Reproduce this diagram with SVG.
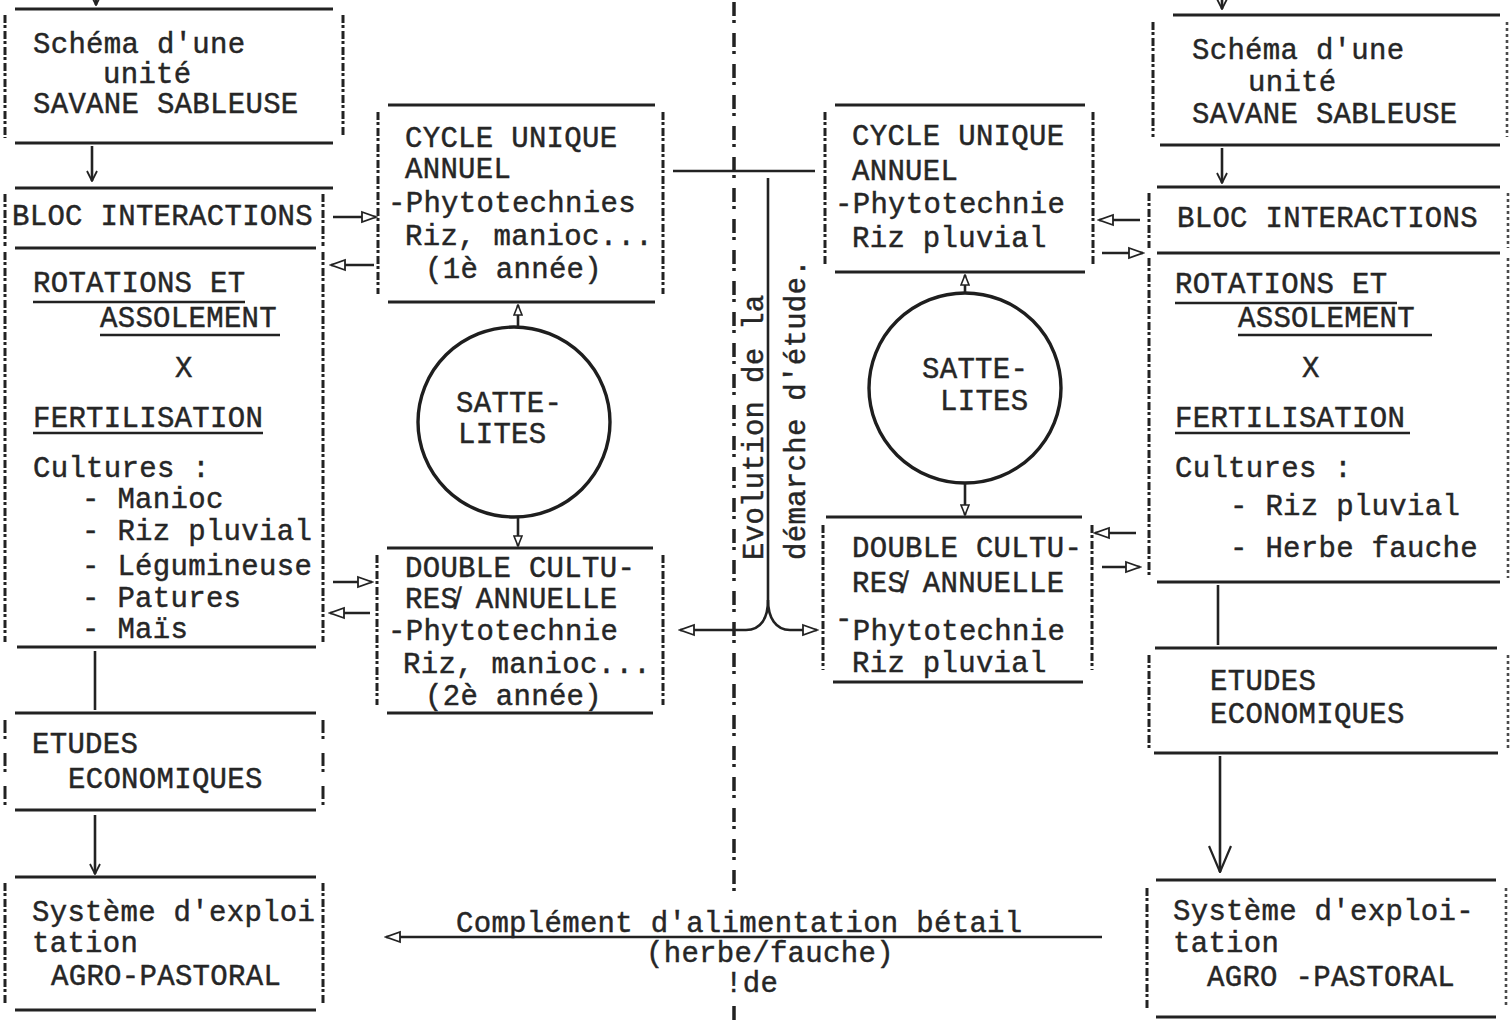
<svg xmlns="http://www.w3.org/2000/svg" width="1511" height="1022" viewBox="0 0 1511 1022">
<style>
.t{font-family:"Liberation Mono","Courier New","DejaVu Sans Mono",monospace;font-size:29px;letter-spacing:0.3px;fill:#262626;stroke:#262626;stroke-width:0.45}
.hl{stroke:#222;stroke-width:3.2;fill:none}
.ul{stroke:#222;stroke-width:2.6;fill:none}
.sd{stroke:#222;stroke-width:3;fill:none;stroke-dasharray:8 2 3 3}
.sdg{stroke:#222;stroke-width:3;fill:none;stroke-dasharray:13 3 3 14}
.sdr{stroke:#4a4a4a;stroke-width:2.6;fill:none;stroke-dasharray:3 3}
.cn{stroke:#222;stroke-width:2.6;fill:none}
.ctr{stroke:#222;stroke-width:3.5;fill:none;stroke-dasharray:14 4 3 10}
.ring{stroke:#1e1e1e;stroke-width:3.4;fill:none}
</style>
<defs>
<marker id="ah" viewBox="0 0 18 14" refX="16" refY="7" markerWidth="18" markerHeight="14" markerUnits="userSpaceOnUse" orient="auto">
<path d="M2,2 L16,7 L2,12 Z" fill="#fff" stroke="#222" stroke-width="1.8"/>
</marker>
<marker id="ahs" viewBox="0 0 12 10" refX="11" refY="5" markerWidth="12" markerHeight="10" markerUnits="userSpaceOnUse" orient="auto">
<path d="M1,1 L11,5 L1,9 Z" fill="#fff" stroke="#222" stroke-width="1.6"/>
</marker>
<marker id="av" viewBox="0 0 12 12" refX="11" refY="6" markerWidth="12" markerHeight="12" markerUnits="userSpaceOnUse" orient="auto">
<path d="M1,1 L11,6 L1,11" fill="none" stroke="#222" stroke-width="1.8"/>
</marker>
<marker id="avb" viewBox="0 0 28 24" refX="27" refY="12" markerWidth="28" markerHeight="24" markerUnits="userSpaceOnUse" orient="auto">
<path d="M1,1 L27,12 L1,23" fill="none" stroke="#222" stroke-width="2.2"/>
</marker>
</defs>
<rect x="0" y="0" width="1511" height="1022" fill="#fff"/>

<g id="divider">
<path class="ctr" d="M734,2 V895"/>
<path class="ctr" d="M734,1006 V1022"/>
</g>

<g id="n-schema-left">
<path class="hl" d="M15,9 H333 M15,143 H333"/>
<path class="sd" d="M5,15 V138 M343,15 V135"/>
<text class="t" x="33" y="53">Schéma d'une</text>
<text class="t" x="103" y="83">unité</text>
<text class="t" x="33" y="113">SAVANE SABLEUSE</text>
</g>

<g id="n-bloc-left">
<path class="hl" d="M15,188 H333 M15,248 H316"/>
<path class="sd" d="M5,194 V246 M323,194 V246"/>
<text class="t" x="12" y="225">BLOC INTERACTIONS</text>
</g>

<g id="n-rot-left">
<path class="sd" d="M5,252 V642 M323,252 V642"/>
<text class="t" x="33" y="292">ROTATIONS ET</text>
<path class="ul" d="M33,302 H245"/>
<text class="t" x="100" y="327">ASSOLEMENT</text>
<path class="ul" d="M100,335 H280"/>
<text class="t" x="175" y="377">X</text>
<text class="t" x="33" y="427">FERTILISATION</text>
<path class="ul" d="M33,433 H263"/>
<text class="t" x="33" y="477">Cultures :</text>
<text class="t" x="82" y="508">- Manioc</text>
<text class="t" x="82" y="540">- Riz pluvial</text>
<text class="t" x="82" y="575">- Légumineuse</text>
<text class="t" x="82" y="607">- Patures</text>
<text class="t" x="82" y="638">- Maïs</text>
<path class="hl" d="M17,647 H316"/>
</g>

<g id="n-etudes-left">
<path class="hl" d="M15,713 H316 M15,810 H316"/>
<path class="sdg" d="M5,720 V805 M323,720 V805"/>
<text class="t" x="32" y="753">ETUDES</text>
<text class="t" x="68" y="788">ECONOMIQUES</text>
</g>

<g id="n-systeme-left">
<path class="hl" d="M15,877 H316 M15,1010 H316"/>
<path class="sd" d="M5,883 V1005 M323,883 V1005"/>
<text class="t" x="32" y="921">Système d'exploi</text>
<text class="t" x="32" y="952">tation</text>
<text class="t" x="51" y="985">AGRO-PASTORAL</text>
</g>

<g id="n-cycle-left">
<path class="hl" d="M388,105 H655 M388,302 H655"/>
<path class="sd" d="M378,112 V294 M663,112 V294"/>
<text class="t" x="405" y="147">CYCLE UNIQUE</text>
<text class="t" x="405" y="178">ANNUEL</text>
<text class="t" x="388" y="212">-Phytotechnies</text>
<text class="t" x="405" y="245">Riz, manioc...</text>
<text class="t" x="425" y="278">(1è année)</text>
</g>

<g id="n-sat-left">
<ellipse class="ring" cx="514" cy="422" rx="96" ry="95"/>
<text class="t" x="456" y="412">SATTE-</text>
<text class="t" x="458" y="443">LITES</text>
</g>

<g id="n-double-left">
<path class="hl" d="M387,548 H653 M387,713 H653"/>
<path class="sd" d="M377,555 V705 M663,555 V705"/>
<text class="t" x="405" y="577">DOUBLE CULTU-</text>
<text class="t" x="405" y="608">RES̸ ANNUELLE</text>
<text class="t" x="388" y="640">-Phytotechnie</text>
<text class="t" x="403" y="673">Riz, manioc...</text>
<text class="t" x="425" y="705">(2è année)</text>
</g>

<g id="n-cycle-right">
<path class="hl" d="M835,105 H1085 M835,272 H1085"/>
<path class="sd" d="M825,112 V264 M1093,112 V264"/>
<text class="t" x="852" y="145">CYCLE UNIQUE</text>
<text class="t" x="852" y="180">ANNUEL</text>
<text class="t" x="835" y="213">-Phytotechnie</text>
<text class="t" x="852" y="247">Riz pluvial</text>
</g>

<g id="n-sat-right">
<ellipse class="ring" cx="965" cy="388" rx="96" ry="95"/>
<text class="t" x="922" y="378">SATTE-</text>
<text class="t" x="940" y="410">LITES</text>
</g>

<g id="n-double-right">
<path class="hl" d="M826,517 H1082 M833,682 H1083"/>
<path class="sd" d="M823,525 V670 M1092,525 V670"/>
<text class="t" x="852" y="557">DOUBLE CULTU-</text>
<text class="t" x="852" y="592">RES̸ ANNUELLE</text>
<text class="t" x="835" y="640"><tspan dy="-12">-</tspan><tspan dy="12">Phytotechnie</tspan></text>
<text class="t" x="852" y="672">Riz pluvial</text>
</g>

<g id="n-evolution">
<text class="t" transform="translate(763,560) rotate(-90)">Evolution de la</text>
<text class="t" transform="translate(805,560) rotate(-90)">démarche d'étude.</text>
</g>

<g id="n-schema-right">
<path class="hl" d="M1173,15 H1500 M1160,145 H1500"/>
<path class="sd" d="M1153,22 V137"/>
<path class="sdr" d="M1507,22 V137"/>
<text class="t" x="1192" y="59">Schéma d'une</text>
<text class="t" x="1248" y="91">unité</text>
<text class="t" x="1192" y="123">SAVANE SABLEUSE</text>
</g>

<g id="n-bloc-right">
<path class="hl" d="M1157,187 H1500 M1157,253 H1500"/>
<path class="sd" d="M1149,193 V248"/>
<path class="sdr" d="M1508,193 V248"/>
<text class="t" x="1177" y="227">BLOC INTERACTIONS</text>
</g>

<g id="n-rot-right">
<path class="sd" d="M1149,258 V578"/>
<path class="sdr" d="M1508,258 V578"/>
<text class="t" x="1175" y="293">ROTATIONS ET</text>
<path class="ul" d="M1175,303 H1397"/>
<text class="t" x="1238" y="327">ASSOLEMENT</text>
<path class="ul" d="M1238,335 H1432"/>
<text class="t" x="1302" y="377">X</text>
<text class="t" x="1175" y="427">FERTILISATION</text>
<path class="ul" d="M1175,433 H1410"/>
<text class="t" x="1175" y="477">Cultures :</text>
<text class="t" x="1230" y="515">- Riz pluvial</text>
<text class="t" x="1230" y="557">- Herbe fauche</text>
<path class="hl" d="M1157,582 H1500"/>
</g>

<g id="n-etudes-right">
<path class="hl" d="M1155,648 H1497 M1154,753 H1498"/>
<path class="sd" d="M1149,655 V748"/>
<path class="sdr" d="M1508,655 V748"/>
<text class="t" x="1210" y="690">ETUDES</text>
<text class="t" x="1210" y="723">ECONOMIQUES</text>
</g>

<g id="n-systeme-right">
<path class="hl" d="M1156,880 H1496 M1156,1017 H1496"/>
<path class="sd" d="M1147,888 V1008"/>
<path class="sdr" d="M1506,888 V1008"/>
<text class="t" x="1173" y="920">Système d'exploi-</text>
<text class="t" x="1173" y="952">tation</text>
<text class="t" x="1207" y="986">AGRO -PASTORAL</text>
</g>

<g id="connectors">
<path class="cn" d="M96,-8 V5" marker-end="url(#av)"/>
<path class="cn" d="M1222,-10 V9" marker-end="url(#av)"/>
<path class="cn" d="M92,146 V181" marker-end="url(#av)"/>
<path class="cn" d="M333,217 H376" marker-end="url(#ah)"/>
<path class="cn" d="M374,265 H331" marker-end="url(#ah)"/>
<path class="cn" d="M333,582 H372" marker-end="url(#ah)"/>
<path class="cn" d="M370,613 H330" marker-end="url(#ah)"/>
<path class="cn" d="M95,651 V710"/>
<path class="cn" d="M95,815 V874" marker-end="url(#av)"/>
<path class="cn" d="M518,327 V305" marker-end="url(#ahs)"/>
<path class="cn" d="M518,518 V546" marker-end="url(#ahs)"/>
<path class="cn" d="M673,171 H815"/>
<path class="cn" d="M768,178 V600"/>
<path class="cn" d="M768,600 C768,618 761,630 746,630 H680" marker-end="url(#ah)"/>
<path class="cn" d="M768,600 C768,618 776,630 790,630 H817" marker-end="url(#ah)"/>
<path class="cn" d="M965,292 V275" marker-end="url(#ahs)"/>
<path class="cn" d="M965,484 V515" marker-end="url(#ahs)"/>
<path class="cn" d="M1140,220 H1099" marker-end="url(#ah)"/>
<path class="cn" d="M1102,253 H1143" marker-end="url(#ah)"/>
<path class="cn" d="M1136,533 H1095" marker-end="url(#ah)"/>
<path class="cn" d="M1102,567 H1140" marker-end="url(#ah)"/>
<path class="cn" d="M1222,148 V183" marker-end="url(#av)"/>
<path class="cn" d="M1218,585 V645"/>
<path class="cn" d="M1220,756 V872" marker-end="url(#avb)"/>
<path class="cn" d="M1102,937 H386" marker-end="url(#ah)"/>
<text class="t" x="456" y="932">Complément d'alimentation bétail</text>
<text class="t" x="646" y="962">(herbe/fauche)</text>
<text class="t" x="725" y="992">!de</text>
</g>
</svg>
